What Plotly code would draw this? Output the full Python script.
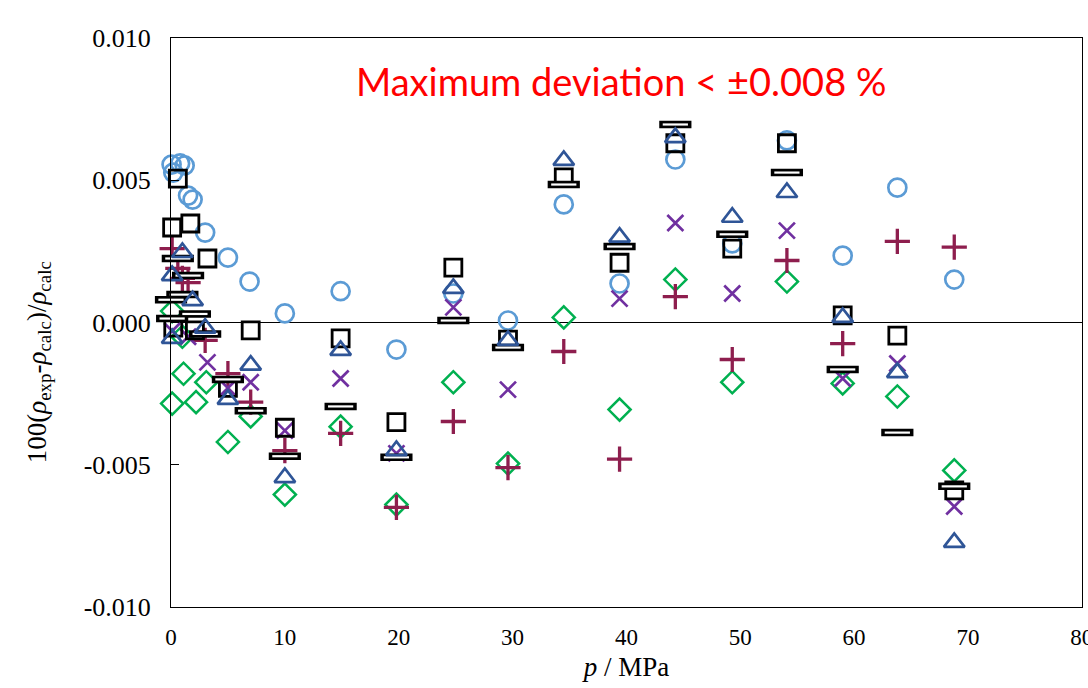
import plotly.graph_objects as go

# ---- data ----
circle_p = [0.05, 0.2, 0.8, 1.2, 1.5, 1.9, 3.0, 5.0, 6.9, 10.0, 14.9, 19.8, 24.8, 29.6, 34.5, 39.4, 44.3, 49.3, 54.1, 59.0, 63.8, 68.8]
circle_d = [0.00555, 0.00527, 0.00559, 0.00552, 0.00446, 0.00432, 0.00316, 0.00228, 0.00144, 0.00032, 0.00110, -0.00095,
            0.00102, 0.00007, 0.00415, 0.00137, 0.00573, 0.00278, 0.00640, 0.00235, 0.00474, 0.00151]

square_p = [0.1, 0.6, 1.7, 3.2, 0.2, 2.1, 5.0, 7.0, 10.0, 14.9, 19.8, 24.8, 29.6, 34.5, 39.4, 44.3, 49.3, 54.1, 59.0, 63.8, 68.8]
square_d = [0.00334, 0.00506, 0.00348, 0.00225, -0.00018, -0.00028, -0.00230, -0.00028, -0.00370, -0.00056, -0.00350,
            0.00193, -0.00060, 0.00510, 0.00210, 0.00630, 0.00260, 0.00630, 0.00025, -0.00046, -0.00590]

dash_p = [0.6, 1.5, 0.0, 1.0, 2.1, 0.1, 3.0, 5.0, 7.0, 10.0, 14.9, 19.8, 24.8, 29.6, 34.5, 39.4, 44.3, 49.3, 54.1, 59.0, 63.8, 68.8]
dash_d = [0.00225, 0.00165, 0.00080, 0.00098, 0.00030, 0.00014, -0.00040, -0.00200, -0.00310, -0.00470, -0.00295, -0.00474,
          0.00007, -0.00088, 0.00485, 0.00267, 0.00696, 0.00310, 0.00527, -0.00165, -0.00387, -0.00576]

tri_p = [1.0, 0.1, 1.9, 0.1, 3.0, 5.0, 7.0, 10.0, 14.9, 19.8, 24.8, 29.6, 34.5, 39.4, 44.3, 49.3, 54.1, 59.0, 63.8, 68.8]
tri_d = [0.00246, 0.00165, 0.00077, -0.00056, -0.00020, -0.00270, -0.00150, -0.00545, -0.00098, -0.00450, 0.00120,
         -0.00063, 0.00570, 0.00300, 0.00650, 0.00370, 0.00457, 0.00018, -0.00176, -0.00773]

x_p = [0.1, 1.5, 3.2, 5.0, 7.0, 10.0, 14.9, 19.8, 24.8, 29.6, 39.4, 44.3, 49.3, 54.1, 59.0, 63.8, 68.8]
x_d = [-0.00030, -0.00050, -0.00140, -0.00230, -0.00210, -0.00380, -0.00197, -0.00460, 0.00053, -0.00236, 0.00084,
       0.00350, 0.00102, 0.00323, -0.00197, -0.00144, -0.00647]

plus_p = [0.1, 0.6, 1.0, 1.5, 3.0, 5.0, 7.0, 10.0, 14.9, 19.8, 24.8, 29.6, 34.5, 39.4, 44.3, 49.3, 54.1, 59.0, 63.8, 68.8]
plus_d = [0.00260, 0.00190, 0.00155, 0.00140, -0.00063, -0.00180, -0.00280, -0.00450, -0.00390, -0.00650, -0.00348,
          -0.00510, -0.00102, -0.00480, 0.00091, -0.00130, 0.00218, -0.00074, 0.00285, 0.00265]

dia_p = [0.1, 1.0, 1.1, 3.1, 0.1, 2.2, 5.0, 7.0, 10.0, 14.9, 19.8, 24.8, 29.6, 34.5, 39.4, 44.3, 49.3, 54.1, 59.0, 63.8, 68.8]
dia_d = [0.00040, -0.00050, -0.00180, -0.00210, -0.00285, -0.00280, -0.00420, -0.00330, -0.00605, -0.00366, -0.00640,
         -0.00210, -0.00496, 0.00018, -0.00306, 0.00151, -0.00210, 0.00144, -0.00214, -0.00260, -0.00520]

x_ticks = [0, 10, 20, 30, 40, 50, 60, 70, 80]
y_ticks = [-0.010, -0.005, 0.000, 0.005, 0.010]

SERIF = "Liberation Serif, Times New Roman, serif"

fig = go.Figure()

def add(px, py, symbol, color, size, lw):
    fig.add_trace(go.Scatter(
        x=px, y=py, mode="markers", showlegend=False, hoverinfo="skip", cliponaxis=False,
        marker=dict(symbol=symbol, size=size, color=color,
                    line=dict(color=color, width=lw))))

add(circle_p, circle_d, "circle-open", "#5B9BD5", 18, 2.7)
add(dia_p, dia_d, "diamond-open", "#00B050", 17, 2.5)
add(plus_p, plus_d, "cross-thin-open", "#8E1E4E", 18, 3.3)
add(x_p, x_d, "x-thin-open", "#7030A0", 16, 2.7)
add(square_p, square_d, "square-open", "#000000", 17, 2.8)
# dash markers: black bar with white core
add(dash_p, dash_d, "line-ew-open", "#000000", 23, 7.5)
add(dash_p, dash_d, "line-ew-open", "#FFFFFF", 18, 2.2)
add(tri_p, tri_d, "triangle-up-open", "#2F5597", 18, 2.7)

fig.add_annotation(text="Maximum deviation < ±0.008 %", xref="x", yref="y", x=39.5, y=0.0085,
                   showarrow=False, font=dict(family="Lato, Carlito, sans-serif", size=38, color="#FF0000"))

fig.add_annotation(
    text="100(<i>ρ</i><sub>exp</sub>-<i>ρ</i><sub>calc</sub>)/<i>ρ</i><sub>calc</sub>",
    xref="paper", yref="paper", x=-0.1450, y=0.430, xanchor="center", yanchor="middle",
    textangle=-90, showarrow=False, font=dict(size=27, family=SERIF, color="black"))

fig.update_layout(
    width=1088, height=688,
    margin=dict(l=171, r=6, t=38, b=81),
    paper_bgcolor="white", plot_bgcolor="white",
    font=dict(family=SERIF, color="black"),
    xaxis=dict(range=[0, 80.02], tickvals=x_ticks, ticktext=[str(v) for v in x_ticks],
               showgrid=False, zeroline=False, showline=True, mirror=True, linecolor="black", linewidth=1,
               ticks="", tickfont=dict(size=23, family=SERIF), ticklabelstandoff=9,
               ticklabeloverflow="allow", automargin=False,
               title=dict(text="<i>p</i> / MPa", font=dict(size=27, family=SERIF), standoff=8)),
    yaxis=dict(range=[-0.010, 0.010], tickvals=y_ticks, ticktext=[f"{v:.3f}" for v in y_ticks],
               showgrid=False, zeroline=True, zerolinecolor="black", zerolinewidth=1,
               showline=True, mirror=True, linecolor="black", linewidth=1,
               ticks="inside", ticklen=8, tickcolor="black", automargin=False,
               tickfont=dict(size=26, family=SERIF), ticklabelstandoff=14),
)

fig.write_html("out.html")
